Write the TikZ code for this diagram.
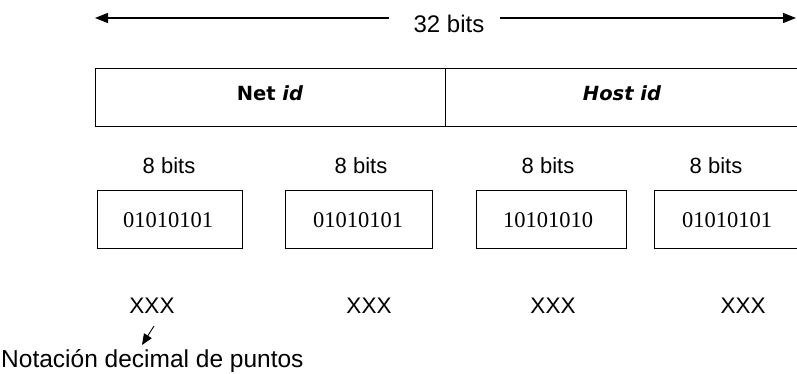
\documentclass[tikz,border=0pt]{standalone}
\usepackage{fontspec}
\setmainfont{Liberation Sans}
\newfontfamily\idfont{DejaVu Sans}
\newfontfamily\bitfont{Liberation Serif}
\usetikzlibrary{arrows.meta}
\begin{document}
\begin{tikzpicture}[x=1pt,y=-1pt,
  lbl/.style={inner sep=0pt,anchor=base},
  field/.style={draw,line width=1pt,inner sep=0pt,anchor=north west},
  octet/.style={draw,line width=1pt,inner sep=0pt,anchor=north west,minimum height=58pt},
  bitlbl/.style={lbl,font=\fontsize{22}{24}\selectfont},
  bintxt/.style={lbl,font=\bitfont\fontsize{22.5}{24}\selectfont},
  xxx/.style={lbl,font=\fontsize{22.5}{24}\selectfont},
  bigarrow/.style={line width=1.1pt,-{Triangle[length=13pt,width=10pt]}},
  smallarrow/.style={line width=0.9pt,-{Triangle[length=11pt,width=9pt]}}]
\path[use as bounding box,clip] (0,0) rectangle (797,373);

% 32 bits arrow
\node[lbl,font=\fontsize{24}{26}\selectfont] (t32) at (449,32) {32 bits};
\coordinate (L) at (95,18);
\coordinate (R) at (796,18);
\draw[bigarrow] ([xshift=-24pt]t32.west |- L) -- (L);
\draw[bigarrow] ([xshift=15pt]t32.east |- R) -- (R);

% Net id / Host id fields
\node[field,minimum width=350pt,minimum height=58pt] (net) at (95,68) {};
\node[field,minimum width=380pt,minimum height=58pt] (host) at (445,68) {};
\node[lbl,font=\idfont\bfseries\fontsize{19.5}{22}\selectfont] (nettxt) at (270,100) {Net \textit{id}};
\node[lbl,font=\idfont\bfseries\itshape\fontsize{19.5}{22}\selectfont] (hosttxt) at (622,100) {Host id};

% 8 bits labels
\node[bitlbl] (b1) at (169,173) {8 bits};
\node[bitlbl] (b2) at (361,173) {8 bits};
\node[bitlbl] (b3) at (548,173) {8 bits};
\node[bitlbl] (b4) at (716,173) {8 bits};

% octet boxes
\node[octet,minimum width=145pt] (o1) at (97,190) {};
\node[octet,minimum width=147pt] (o2) at (285,190) {};
\node[octet,minimum width=150pt] (o3) at (476,190) {};
\node[octet,minimum width=152pt] (o4) at (654,190) {};
\node[bintxt] (v1) at (168,227) {01010101};
\node[bintxt] (v2) at (358,227) {01010101};
\node[bintxt] (v3) at (548,227) {10101010};
\node[bintxt] (v4) at (727,227) {01010101};

% decimal values
\node[xxx] (x1) at (152,313) {XXX};
\node[xxx] (x2) at (369,313) {XXX};
\node[xxx] (x3) at (553,313) {XXX};
\node[xxx] (x4) at (743,313) {XXX};

% note
\node[lbl,anchor=base west,font=\fontsize{24.5}{26}\selectfont] (nota) at (1,367) {Notación decimal de puntos};
\coordinate (tip) at (142,345);
\draw[smallarrow] (154,326) -- (tip);
\end{tikzpicture}
\end{document}
